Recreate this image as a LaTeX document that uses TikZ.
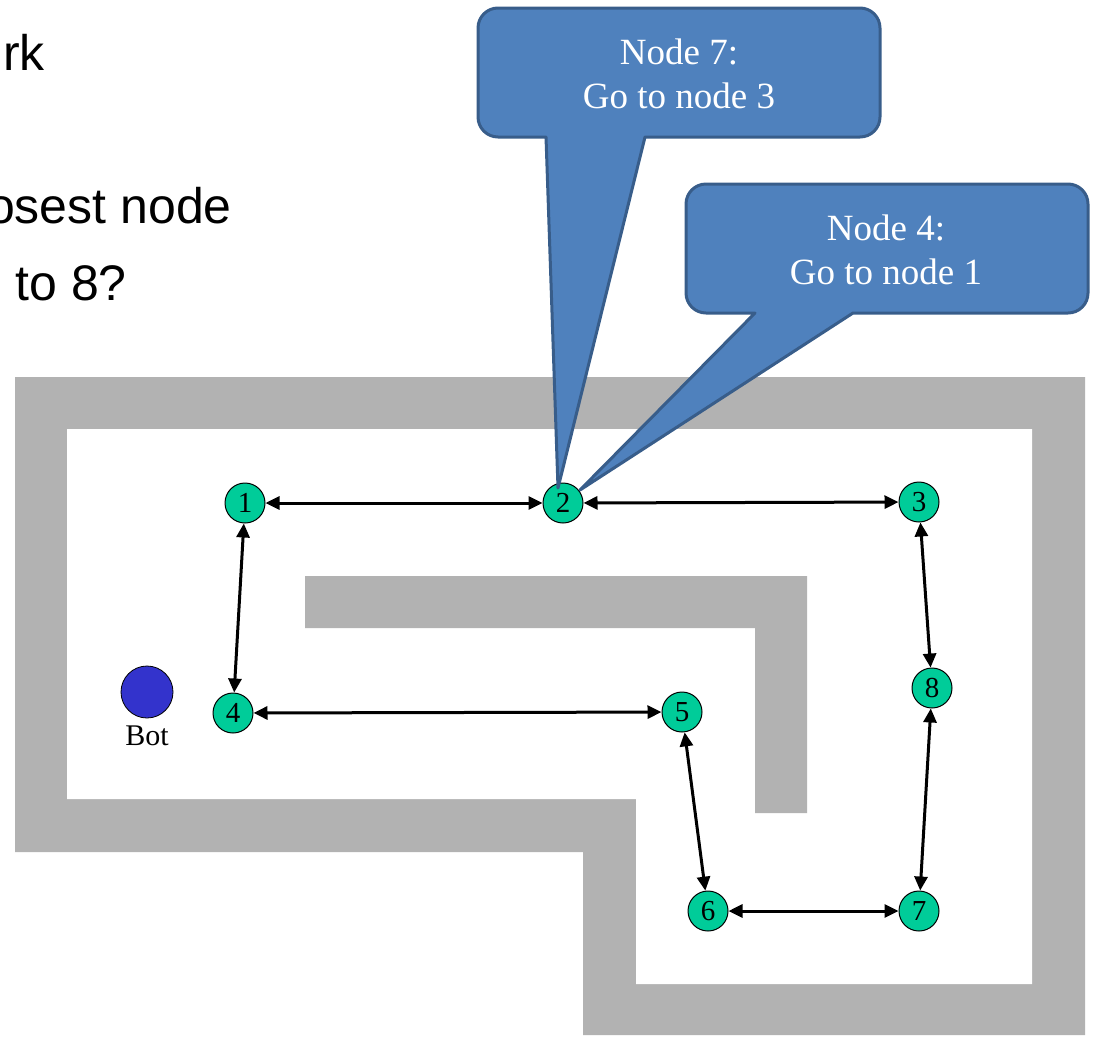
\documentclass[tikz,border=0pt]{standalone}
\usepackage{fontspec}
\setmainfont{Liberation Serif}
\setsansfont{Liberation Sans}
\usetikzlibrary{arrows.meta,positioning}
\definecolor{wallgray}{RGB}{178,178,178}
\definecolor{nodegreen}{RGB}{0,204,153}
\definecolor{botblue}{RGB}{51,51,204}
\definecolor{calloutfill}{RGB}{79,129,189}
\definecolor{calloutline}{RGB}{56,93,138}

\begin{document}
\begin{tikzpicture}[x=1pt, y=-1pt,
    waypoint/.style={draw, circle, fill=nodegreen, line width=1pt, minimum size=40pt, inner sep=0pt, font=\fontsize{29}{29}\selectfont},
    link/.style={{Triangle[length=14pt,width=13pt]}-{Triangle[length=14pt,width=13pt]}, line width=3pt},
    callout/.style={fill=calloutfill, draw=calloutline, line width=3pt, line join=round},
    calltext/.style={text=white, align=center, font=\fontsize{37}{44}\selectfont},
    slide/.style={font=\sffamily\fontsize{50}{50}\selectfont, inner sep=0pt, anchor=base east}]
            \clip (0, 0) rectangle (1094, 1037);
            % slide text, cut off at the left
            \node[slide] (t1) at (45, 70) {rk};
            \node[slide] (t2) at (232, 223) {osest node};
            \node[slide] (t3) at (127, 300) {to 8?};
            % walls
            \fill[wallgray] (15, 377) -- (1085, 377) -- (1085, 1035) -- (583, 1035) -- (583, 852) -- (15, 852) -- cycle;
            \fill[white] (67, 429) -- (1032, 429) -- (1032, 984) -- (636, 984) -- (636, 799) -- (67, 799) -- cycle;
            \fill[wallgray] (305, 576) -- (807, 576) -- (807, 813) -- (755, 813) -- (755, 628) -- (305, 628) -- cycle;
            % bot
            \node[draw, circle, fill=botblue, line width=0.8pt, minimum size=52pt, inner sep=0pt] (bot) at (147, 692) {};
            \node[below=7pt of bot, inner sep=0pt, font=\fontsize{30}{30}\selectfont] (botlabel) {Bot};
            % waypoints
            \node[waypoint] (n1) at (245, 503) {1};
            \node[waypoint] (n2) at (563, 503) {2};
            \node[waypoint] (n3) at (919, 502) {3};
            \node[waypoint] (n4) at (233, 713) {4};
            \node[waypoint] (n5) at (682, 712) {5};
            \node[waypoint] (n6) at (708, 911) {6};
            \node[waypoint] (n7) at (919, 911) {7};
            \node[waypoint] (n8) at (932, 688) {8};
            \draw[link] (n1) -- (n2);
            \draw[link] (n2) -- (n3);
            \draw[link] (n1) -- (n4);
            \draw[link] (n3) -- (n8);
            \draw[link] (n4) -- (n5);
            \draw[link] (n5) -- (n6);
            \draw[link] (n8) -- (n7);
            \draw[link] (n6) -- (n7);
            % callouts
            \coordinate (tipa) at (558, 488);
            \coordinate (tipb) at (580, 490);
            \draw[callout] (tipa) -- (546, 137) {[rounded corners=20pt] -- (478, 137) -- (478, 8) -- (880, 8) -- (880, 137)} -- (645, 137) -- cycle;
            \node[calltext] (ca) at (679, 74) {Node 7:\\Go to node 3};
            \draw[callout] (tipb) -- (755, 313) {[rounded corners=20pt] -- (686, 313) -- (686, 184) -- (1088, 184) -- (1088, 313)} -- (853, 313) -- cycle;
            \node[calltext] (cb) at (886, 250) {Node 4:\\Go to node 1};
        \end{tikzpicture}
\end{document}
